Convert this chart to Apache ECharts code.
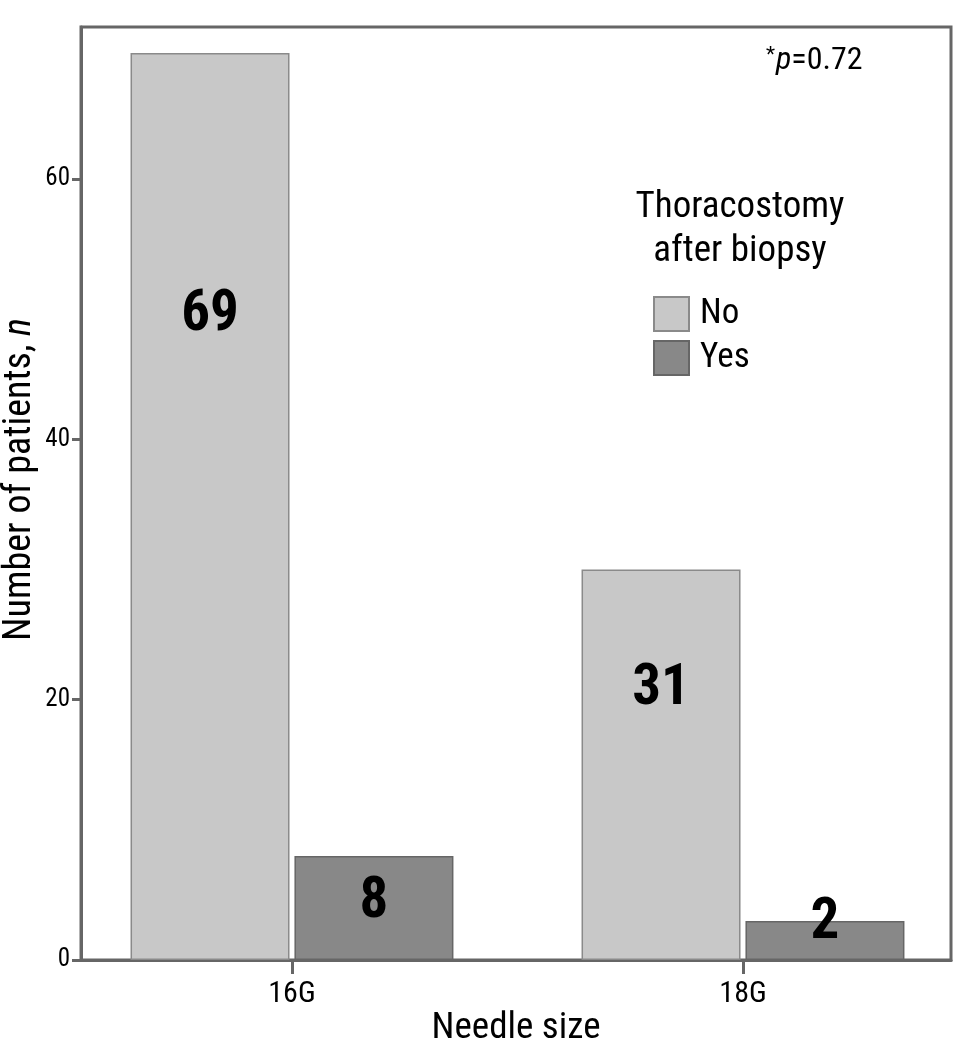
<!DOCTYPE html>
<html>
<head>
<meta charset="utf-8">
<script src="https://cdn.jsdelivr.net/npm/echarts@6/dist/echarts.min.js"></script>
<style>html,body{margin:0;padding:0;background:#fff}#c{width:954px;height:1049px}</style>
</head>
<body>
<div id="c"></div>
<script>
// ---- data ----
var categories = ['16G', '18G'];
var seriesNames = ['No', 'Yes'];
var valuesNo = [69.7, 30];      // bar heights as drawn
var valuesYes = [8, 3];
var labelsNo = ['69', '31'];    // numbers printed in the bars
var labelsYes = ['8', '2'];
var yTicks = [0, 20, 40, 60];
var xTicks = [0, 1];

var FONT = "'Roboto Condensed', Roboto, sans-serif";
var labelPosNo = [['50%', '29%'], ['50%', '30.9%']];
var labelPosYes = [['50%', '45%'], ['50%', '7%']];

function items(vals, labels, pos) {
  return vals.map(function (v, i) {
    return {
      value: [xTicks[i], v],
      label: { position: pos[i], formatter: labels[i] }
    };
  });
}

var chart = echarts.init(document.getElementById('c'), null, { renderer: 'canvas' });
var labelStyle = {
  show: true, fontFamily: FONT, fontSize: 57, fontWeight: 'bold', color: '#000',
  align: 'center', verticalAlign: 'middle'
};
chart.setOption({
  animation: false,
  backgroundColor: '#fff',
  textStyle: { fontFamily: FONT },
  grid: {
    left: 81, right: 3, top: 27, bottom: 89, show: true, borderColor: '#666', borderWidth: 3,
    containLabel: false, outerBoundsMode: 'none'
  },
  title: [
    {
      text: 'Thoracostomy\nafter biopsy', left: 735, top: 181, textAlign: 'center',
      textStyle: { fontFamily: FONT, fontSize: 37, fontWeight: 'normal', color: '#000', lineHeight: 44 }
    },
    {
      text: '{a|*}{b|p}{c|=0.72}', left: 761, top: 40,
      textStyle: {
        fontWeight: 'normal',
        rich: {
          a: { fontFamily: FONT, fontSize: 21, fontWeight: 'normal', color: '#000', verticalAlign: 'top', padding: [0, 1, 10, 0] },
          b: { fontFamily: FONT, fontSize: 32, fontWeight: 'normal', fontStyle: 'italic', color: '#000' },
          c: { fontFamily: FONT, fontSize: 32, fontWeight: 'normal', color: '#000' }
        }
      }
    }
  ],
  legend: {
    orient: 'vertical', left: 648, top: 291, itemWidth: 35, itemHeight: 34, itemGap: 8,
    icon: 'rect', data: seriesNames,
    textStyle: { fontFamily: FONT, fontSize: 35, color: '#000', padding: [0, 0, 0, 6] }
  },
  xAxis: {
    type: 'value', min: -0.4678, max: 1.4612,
    name: 'Needle size', nameLocation: 'middle', nameGap: 50, nameMoveOverlap: false,
    nameTextStyle: { fontFamily: FONT, fontSize: 37, color: '#000' },
    axisLine: { show: true, onZero: false, lineStyle: { color: '#666', width: 3 } },
    axisTick: { show: true, customValues: xTicks, length: 14, lineStyle: { color: '#666', width: 3 } },
    axisLabel: {
      customValues: xTicks, margin: 19, fontFamily: FONT, fontSize: 30, color: '#000',
      formatter: function (v) { return categories[Math.round(v)]; }
    },
    splitLine: { show: false }
  },
  yAxis: {
    type: 'value', min: 0, max: 71.7,
    name: '{t|Number of patients, }{i|n}', nameLocation: 'middle', nameGap: 42, nameMoveOverlap: false,
    nameTextStyle: {
      padding: [0, 0, 0, 28],
      rich: {
        t: { fontFamily: FONT, fontSize: 38, color: '#000' },
        i: { fontFamily: FONT, fontSize: 38, color: '#000', fontStyle: 'italic' }
      }
    },
    axisLine: { show: true, onZero: false, lineStyle: { color: '#666', width: 3 } },
    axisTick: { show: true, customValues: yTicks, length: 9, lineStyle: { color: '#666', width: 3 } },
    axisLabel: { customValues: yTicks, margin: 11, fontFamily: FONT, fontSize: 25, color: '#000' },
    splitLine: { show: false }
  },
  series: [
    {
      name: seriesNames[0], type: 'bar', barWidth: 159, barGap: '3.1%',
      itemStyle: { color: '#c8c8c8', borderColor: '#8a8a8a', borderWidth: 1.5 },
      label: labelStyle,
      data: items(valuesNo, labelsNo, labelPosNo)
    },
    {
      name: seriesNames[1], type: 'bar', barWidth: 159, barGap: '3.1%',
      itemStyle: { color: '#888888', borderColor: '#666', borderWidth: 1.5 },
      label: labelStyle,
      data: items(valuesYes, labelsYes, labelPosYes)
    }
  ]
});
</script>
</body>
</html>
